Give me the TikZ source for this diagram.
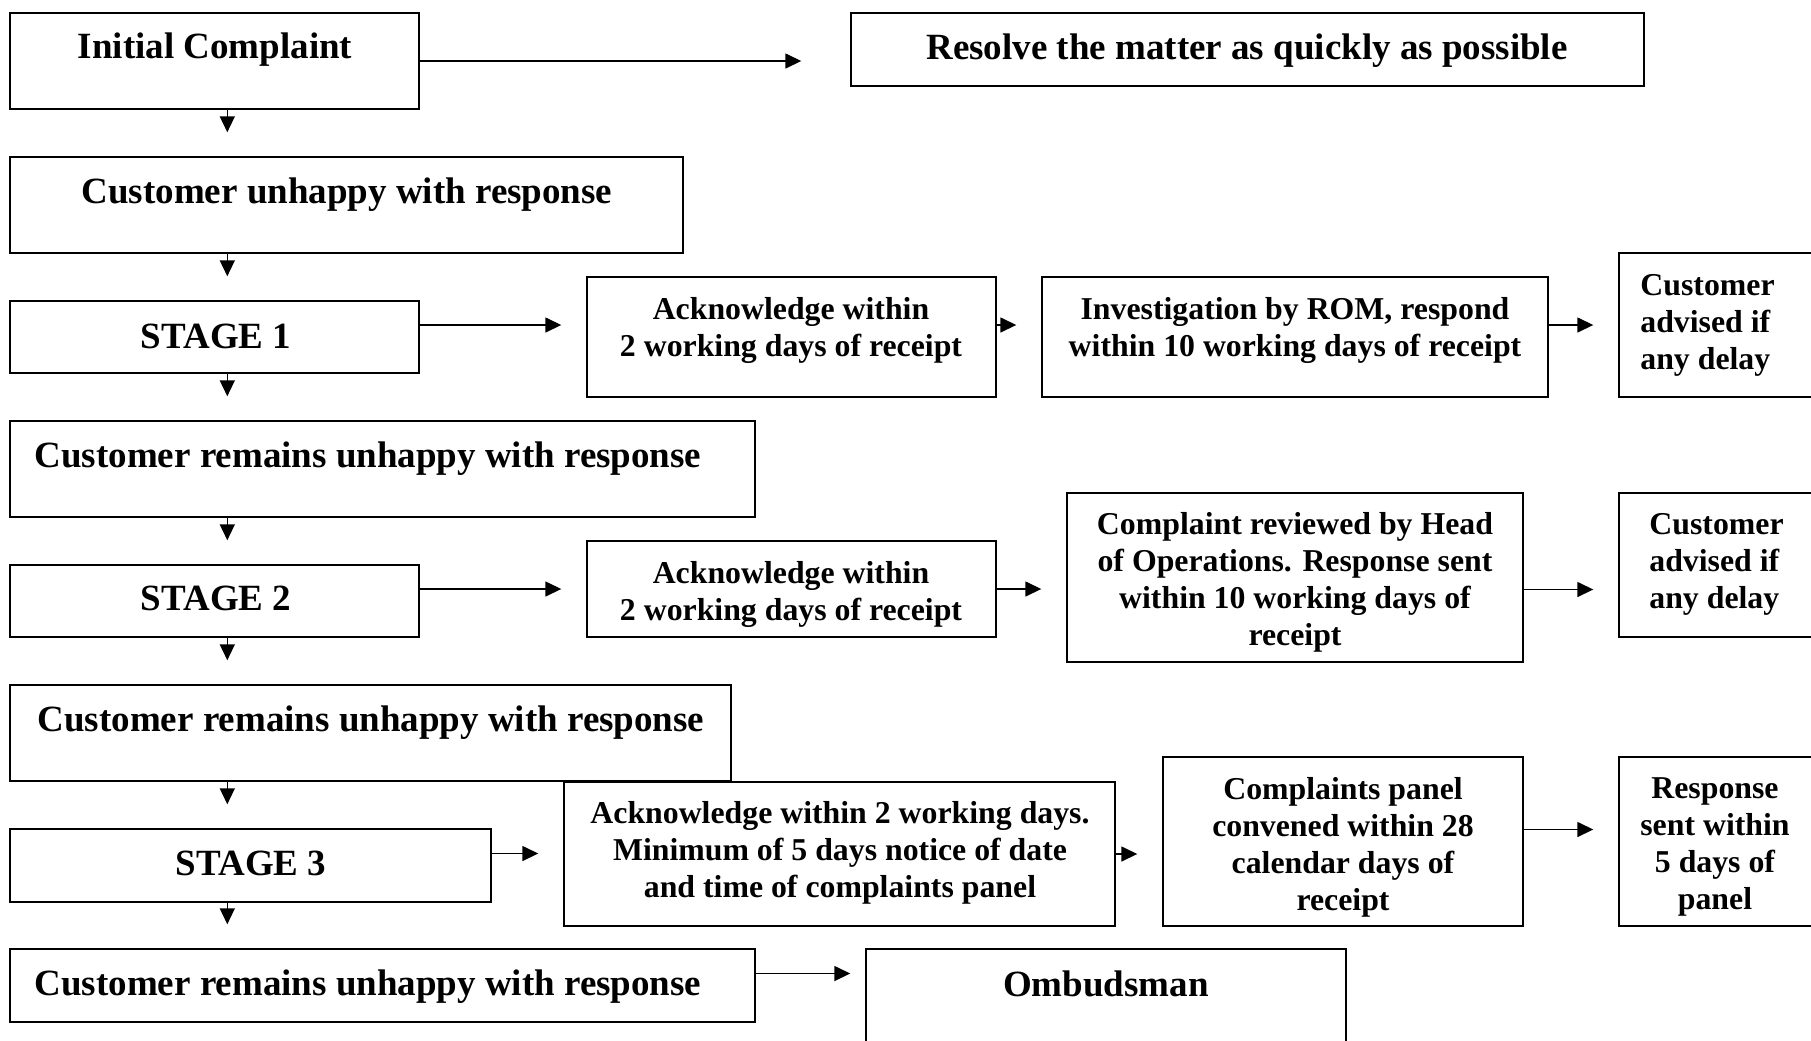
\documentclass[tikz,border=0pt]{standalone}
\usepackage{fontspec}
\setmainfont{Liberation Serif}
\usetikzlibrary{arrows.meta}
\usetikzlibrary{fit}

\begin{document}
\begin{tikzpicture}[x=0.5pt,y=-0.5pt,
  box/.style={draw,line width=0.7pt,inner sep=0pt},
  txt/.style={align=center,inner sep=0pt,font=\bfseries\fontsize{18.5}{18.5}\selectfont},
  small/.style={txt,font=\bfseries\fontsize{15.9}{18.5}\selectfont},
  arr/.style={-{Triangle[length=8pt,width=7.5pt]},line width=0.75pt,shorten >=12.5pt},
  down/.style={arr,shorten >=12pt}]
\useasboundingbox (0,0) rectangle (1811,1040);
% boxes
\node[box,fit={(10,13) (419,109)}] (init) {};
\node[box,fit={(851,13) (1644,86)}] (resolve) {};
\node[box,fit={(10,157) (683,253)}] (unhappy) {};
\node[box,fit={(10,301) (419,373)}] (stageA) {};
\node[box,fit={(587,277) (996,397)}] (ackA) {};
\node[box,fit={(1042,277) (1548,397)}] (inv) {};
\node[box,fit={(1619,253) (1830,397)}] (advA) {};
\node[box,fit={(10,421) (755,517)}] (remainA) {};
\node[box,fit={(10,565) (419,637)}] (stageB) {};
\node[box,fit={(587,541) (996,637)}] (ackB) {};
\node[box,fit={(1067,493) (1523,662)}] (review) {};
\node[box,fit={(1619,493) (1830,637)}] (advB) {};
\node[box,fit={(10,685) (731,781)}] (remainB) {};
\node[box,fit={(10,829) (491,902)}] (stageC) {};
\node[box,fit={(564,782) (1115,926)}] (ackC) {};
\node[box,fit={(1163,757) (1523,926)}] (panel) {};
\node[box,fit={(1619,757) (1830,926)}] (resp) {};
\node[box,fit={(10,949) (755,1022)}] (remainC) {};
\node[box,fit={(866,949) (1346,1070)}] (omb) {};
% texts
\node[txt] (initT) at (215,50) {Initial Complaint};
\node[txt] (resolveT) at (1247,51) {Resolve the matter as quickly as possible};
\node[txt] (unhappyT) at (347,195) {Customer unhappy with response};
\node[txt] (stageAT) at (216,336) {STAGE 1};
\node[small] (ackAT) at (791,330) {Acknowledge within\\2 working days of receipt};
\node[small] (invT) at (1295,330) {Investigation by ROM, respond\\within 10 working days of receipt};
\node[small,align=left,anchor=west] (advAT) at (1640,325) {Customer\\advised if\\any delay};
\node[txt] (remainAT) at (368,459) {Customer remains unhappy with response};
\node[txt] (stageBT) at (216,598) {STAGE 2};
\node[small] (ackBT) at (791,594) {Acknowledge within\\2 working days of receipt};
\node[small] (reviewT) at (1295,582) {Complaint reviewed by Head\\of Operations. Response sent\\within 10 working days of\\receipt};
\node[small,align=left,anchor=west] (advBT) at (1649,564) {Customer\\advised if\\any delay};
\node[txt] (remainBT) at (371,723) {Customer remains unhappy with response};
\node[txt] (stageCT) at (251,863) {STAGE 3};
\node[small] (ackCT) at (840,853) {Acknowledge within 2 working days.\\Minimum of 5 days notice of date\\and time of complaints panel};
\node[small] (panelT) at (1343,847) {Complaints panel\\convened within 28\\calendar days of\\receipt};
\node[small] (respT) at (1715,847) {Response\\sent within\\5 days of\\panel};
\node[txt] (remainCT) at (368,987) {Customer remains unhappy with response};
\node[txt] (ombT) at (1106,984) {Ombudsman};
% down the left side
\draw[down] ([xshift=109pt]init.south west) -- ([xshift=109pt]unhappy.north west);
\draw[down] ([xshift=109pt]unhappy.south west) -- ([xshift=109pt]stageA.north west);
\draw[down] ([xshift=109pt]stageA.south west) -- ([xshift=109pt]remainA.north west);
\draw[down] ([xshift=109pt]remainA.south west) -- ([xshift=109pt]stageB.north west);
\draw[down] ([xshift=109pt]stageB.south west) -- ([xshift=109pt]remainB.north west);
\draw[down] ([xshift=109pt]remainB.south west) -- ([xshift=109pt]stageC.north west);
\draw[down] ([xshift=109pt]stageC.south west) -- ([xshift=109pt]remainC.north west);
% across
\draw[arr,shorten >=24.5pt] (init.east) -- (init.east -| resolve.west);
\draw[arr] ([yshift=6pt]stageA.east) -- ([yshift=6pt]ackA.west);
\draw[arr] ([yshift=6pt]ackA.east) -- ([yshift=6pt]inv.west);
\draw[arr] ([yshift=6pt]inv.east) -- (advA.west);
\draw[arr] ([yshift=6pt]stageB.east) -- (ackB.west);
\draw[arr] (ackB.east) -- (ackB.east -| review.west);
\draw[arr] ([yshift=-6pt]review.east) -- ([yshift=-6pt]review.east -| advB.west);
\draw[arr] ([yshift=6pt]stageC.east) -- ([yshift=6pt]stageC.east -| ackC.west);
\draw[arr] (ackC.east) -- (ackC.east -| panel.west);
\draw[arr] ([yshift=6pt]panel.east) -- ([yshift=6pt]resp.west);
\draw[arr,shorten >=7.5pt] ([yshift=6pt]remainC.east) -- ([yshift=6pt]remainC.east -| omb.west);
\end{tikzpicture}
\end{document}
